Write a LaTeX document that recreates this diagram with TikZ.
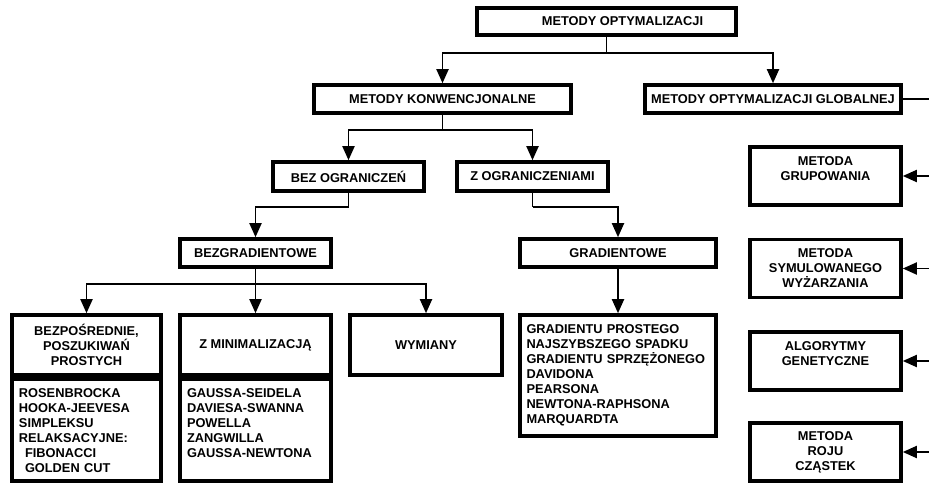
\documentclass[tikz,border=0pt]{standalone}
\usepackage{fontspec}
\setmainfont{Liberation Sans}
\usetikzlibrary{arrows.meta}

\tikzset{
  blok/.style={draw, line width=3.6pt, inner sep=0pt, align=center},
  lista/.style={draw, line width=3.6pt, inner ysep=0pt, align=left},
  laczn/.style={line width=1.9pt},
}

\begin{document}
\begin{tikzpicture}[x=1pt, y=-1pt, >={Triangle[length=14pt,width=12pt]},
  font=\fontsize{12.8}{15}\selectfont\bfseries]
\useasboundingbox (0,0) rectangle (929,484);

% --- Metody optymalizacji ---
\node[blok, minimum width=259pt, minimum height=27pt] (opt) at (606.5,21.5) {\hspace*{32pt}METODY OPTYMALIZACJI};
\node[blok, minimum width=257pt, minimum height=28pt] (konw) at (442.5,99) {METODY KONWENCJONALNE};
\node[blok, minimum width=256pt, minimum height=28pt] (glob) at (773,99) {METODY OPTYMALIZACJI GLOBALNEJ};

\draw[laczn] (opt.south) -- ++(0,16) coordinate (r1);
\draw[laczn, ->] (r1) -| (konw.north);
\draw[laczn, ->] (r1) -| (glob.north);

% --- Metody konwencjonalne ---
\node[blok, minimum width=151pt, minimum height=29pt] (bezogr) at (348.5,176.5) {BEZ OGRANICZEŃ};
\node[blok, minimum width=151pt, minimum height=29pt] (zogr) at (532.5,176.5) {Z OGRANICZENIAMI};

\draw[laczn] (konw.south) -- ++(0,15) coordinate (r2);
\draw[laczn, ->] (r2) -| (bezogr.north);
\draw[laczn, ->] (r2) -| (zogr.north);

\node[blok, minimum width=151pt, minimum height=28pt] (bezgrad) at (255.5,253) {BEZGRADIENTOWE};
\node[blok, minimum width=196pt, minimum height=28pt] (grad) at (618,253) {GRADIENTOWE};

\draw[laczn] (bezogr.south) -- ++(0,14) coordinate (r3);
\draw[laczn, ->] (r3) -| (bezgrad.north);
\draw[laczn] (zogr.south) -- ++(0,14) coordinate (r4);
\draw[laczn, ->] (r4) -| (grad.north);

% --- Metody bezgradientowe ---
\node[blok, minimum width=149pt, minimum height=60pt] (bezp) at (86.5,345) {BEZPOŚREDNIE,\\POSZUKIWAŃ\\PROSTYCH};
\node[blok, minimum width=151pt, minimum height=60pt] (zmin) at (255.5,345) {Z MINIMALIZACJĄ};
\node[blok, minimum width=152pt, minimum height=60pt] (wym) at (426,345) {WYMIANY};

\node[lista, anchor=north, text width=135pt, inner xsep=7pt, text height=19pt, text depth=83pt]
  (bezpl) at (86.5,377) {ROSENBROCKA\\HOOKA-JEEVESA\\SIMPLEKSU\\RELAKSACYJNE:\\\hspace*{6pt}FIBONACCI\\\hspace*{6pt}GOLDEN CUT};
\node[lista, anchor=north, text width=137pt, inner xsep=7pt, text height=19pt, text depth=83pt]
  (zminl) at (255.5,377) {GAUSSA-SEIDELA\\DAVIESA-SWANNA\\POWELLA\\ZANGWILLA\\GAUSSA-NEWTONA};

\draw[laczn] (bezgrad.south) -- ++(0,15) coordinate (r5);
\foreach \n in {bezp,zmin,wym}{
  \draw[laczn, ->] (r5) -| (\n.north);
}

% --- Metody gradientowe ---
\node[lista, text width=183pt, inner xsep=6.5pt, minimum height=121pt] (gradl) at (618,375.5)
  {GRADIENTU PROSTEGO\\NAJSZYBSZEGO SPADKU\\GRADIENTU SPRZĘŻONEGO\\DAVIDONA\\PEARSONA\\NEWTONA-RAPHSONA\\MARQUARDTA};
\draw[laczn, ->] (grad.south) -- (gradl.north);

% --- Metody optymalizacji globalnej ---
\coordinate (kglob) at (929,99);
\draw[laczn] (glob.east) -- (kglob);
\foreach \n/\y/\txt in {grup/176/{METODA\\GRUPOWANIA\\\phantom{X}},
    sym/268.5/{METODA\\SYMULOWANEGO\\WYŻARZANIA},
    gen/361/{ALGORYTMY\\GENETYCZNE\\\phantom{X}},
    roj/452/{METODA\\ROJU\\CZĄSTEK}}{
  \node[blok, minimum width=151pt, minimum height=58pt] (\n) at (825.5,\y) {\txt};
  \coordinate (k\n) at (929,\y);
  \draw[laczn, ->] (k\n) -- (\n.east);
}

\end{tikzpicture}
\end{document}
